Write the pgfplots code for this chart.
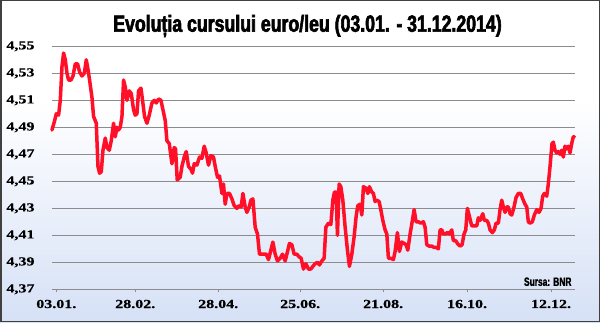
\documentclass[border=0pt]{standalone}
\usepackage{fontspec}
\usepackage{pgfplots}
\usepackage{pgfplotstable}
\pgfplotsset{compat=1.18}
\setmainfont{Liberation Serif}
\newfontfamily\titlefont[FakeStretch=0.76,FakeBold=2.5]{Liberation Sans}
\newfontfamily\tickfont[FakeStretch=1.3,FakeBold=0.6]{Liberation Serif}
\newfontfamily\srcfont[FakeStretch=0.7,FakeBold=1.5]{Liberation Sans}
\definecolor{bgblue}{RGB}{214,225,246}
\definecolor{linered}{RGB}{255,16,40}
\definecolor{gridgray}{RGB}{140,140,140}

\pgfplotstableread{
x v
51.7 4.488
54.0 4.494
56.0 4.500
58.3 4.499
60.0 4.510
61.7 4.535
63.3 4.545
65.0 4.540
66.7 4.530
68.3 4.525
70.7 4.525
72.7 4.528
75.0 4.537
77.3 4.537
79.3 4.531
81.7 4.528
84.0 4.530
86.0 4.540
87.7 4.533
89.3 4.525
91.7 4.512
93.3 4.498
96.0 4.493
97.7 4.461
99.3 4.456
101.0 4.457
102.7 4.473
105.0 4.482
106.7 4.475
109.0 4.473
111.0 4.480
113.3 4.493
115.0 4.483
116.7 4.490
118.3 4.488
120.0 4.490
121.7 4.498
123.3 4.525
125.0 4.520
126.7 4.510
129.0 4.517
131.0 4.515
133.3 4.503
135.0 4.499
136.7 4.500
138.3 4.517
140.7 4.519
142.3 4.510
144.3 4.498
146.7 4.493
149.0 4.499
151.7 4.508
154.0 4.510
156.0 4.508
158.3 4.511
160.7 4.510
162.7 4.503
165.0 4.495
166.7 4.480
169.0 4.478
171.7 4.463
174.0 4.475
175.3 4.474
177.0 4.451
180.0 4.453
181.7 4.461
184.0 4.468
186.0 4.472
188.3 4.461
190.7 4.459
192.3 4.456
194.0 4.463
196.7 4.462
199.3 4.468
201.7 4.467
204.0 4.476
206.0 4.471
208.3 4.462
210.7 4.469
213.3 4.468
215.0 4.461
217.3 4.453
219.3 4.454
221.7 4.441
223.3 4.448
225.0 4.433
226.7 4.441
229.3 4.441
231.7 4.437
234.0 4.432
236.7 4.430
239.0 4.432
241.0 4.431
242.7 4.441
245.0 4.431
246.7 4.427
249.0 4.431
250.7 4.436
252.7 4.437
255.0 4.416
257.3 4.411
259.3 4.396
261.7 4.396
264.0 4.396
266.0 4.396
268.3 4.392
270.7 4.399
272.7 4.405
275.0 4.396
277.3 4.391
280.0 4.393
282.3 4.396
285.0 4.391
286.7 4.396
289.3 4.404
291.7 4.403
294.0 4.396
296.7 4.396
299.0 4.394
301.0 4.393
303.3 4.385
305.7 4.389
308.3 4.385
310.7 4.385
312.7 4.387
315.0 4.389
317.3 4.390
319.3 4.388
321.7 4.391
324.0 4.393
325.7 4.416
328.3 4.419
330.7 4.418
332.7 4.436
334.3 4.442
336.0 4.442
337.3 4.410
339.0 4.448
340.7 4.446
342.7 4.436
345.0 4.416
347.3 4.399
349.3 4.387
351.7 4.396
354.0 4.409
356.0 4.424
357.7 4.432
360.0 4.433
361.7 4.425
363.3 4.446
365.7 4.445
367.7 4.441
369.3 4.446
371.7 4.442
373.3 4.441
375.0 4.435
376.7 4.436
379.0 4.435
380.7 4.429
382.7 4.421
385.0 4.414
386.7 4.411
388.3 4.393
390.7 4.393
393.3 4.392
395.0 4.398
397.3 4.412
399.3 4.398
401.7 4.405
404.0 4.404
406.0 4.403
407.7 4.399
410.0 4.411
412.3 4.421
414.0 4.429
416.0 4.420
418.3 4.420
420.7 4.419
423.3 4.420
425.0 4.416
426.7 4.403
429.0 4.402
431.7 4.402
434.0 4.401
436.0 4.401
438.3 4.400
440.0 4.414
441.7 4.414
443.3 4.411
445.0 4.411
447.3 4.412
449.3 4.411
451.7 4.414
453.3 4.406
455.7 4.406
457.3 4.404
460.0 4.402
462.0 4.403
464.0 4.411
465.7 4.414
467.3 4.430
469.3 4.424
471.7 4.417
474.0 4.417
476.7 4.417
478.3 4.423
480.0 4.421
482.7 4.426
484.3 4.421
486.7 4.421
488.3 4.419
490.0 4.414
492.3 4.412
494.3 4.414
496.0 4.419
498.3 4.419
500.0 4.429
501.7 4.436
503.3 4.431
505.0 4.427
506.7 4.431
508.3 4.431
510.0 4.426
511.7 4.425
514.0 4.431
516.0 4.438
518.3 4.441
520.7 4.441
522.7 4.437
525.0 4.433
526.7 4.431
528.3 4.420
530.0 4.419
532.3 4.420
534.3 4.425
536.7 4.429
539.0 4.427
541.0 4.430
542.7 4.439
544.3 4.441
546.7 4.439
548.3 4.448
550.0 4.461
552.0 4.478
553.3 4.479
555.0 4.473
556.7 4.471
558.3 4.472
560.0 4.470
561.7 4.473
563.3 4.468
565.0 4.476
566.7 4.474
568.3 4.476
570.0 4.471
571.7 4.478
573.3 4.483
574.3 4.483
}\cursdata

\begin{document}
\begin{tikzpicture}[x=1pt,y=1pt]
\useasboundingbox (0,0) rectangle (600,322);
\fill[white] (0,0) rectangle (600,322);
\shade[top color=white, bottom color=bgblue] (0,0) rectangle (600,222);
\begin{axis}[
  at={(52pt,32.7pt)}, anchor=south west,
  scale only axis, width=523pt, height=243pt,
  xmin=51.7, xmax=575, ymin=4.37, ymax=4.55,
  axis lines*=left,
  x axis line style={gridgray, line width=0.9pt, -},
  y axis line style={draw=none},
  ytick={4.37,4.39,4.41,4.43,4.45,4.47,4.49,4.51,4.53,4.55},
  yticklabel={\pgfmathprintnumber[fixed,fixed zerofill,precision=2,use comma,assume math mode=true]{\tick}},
  xtick={56,135,218,300,383,467,551},
  xticklabels={03.01.,28.02.,28.04.,25.06.,21.08.,16.10.,12.12.},
  ymajorgrids=true,
  major grid style={gridgray, line width=0.9pt},
  ytick style={draw=none},
  xtick style={gridgray, line width=0.9pt},
  tick align=outside,
  major tick length=3pt,
  ticklabel style={font=\tickfont\bfseries\fontsize{12.3}{12}\selectfont, text=black},
  yticklabel style={xshift=-11pt},
  xticklabel style={yshift=-4pt},
  clip=false,
]
\addplot[linered, line width=3.5pt, line join=round, line cap=round] table[x=x,y=v]{\cursdata};
\node[anchor=east, font=\srcfont\bfseries\fontsize{12}{12}\selectfont] at (axis cs:575,4.3756) {Sursa: BNR};
\end{axis}
\node[anchor=base, font=\titlefont\bfseries\fontsize{23.3}{24}\selectfont] at (307.5,290.3) {Evoluția cursului euro/leu (03.01. - 31.12.2014)};
\draw[line width=1.5pt, black!75] (0.75,0.75) rectangle (599.25,321.25);
\end{tikzpicture}
\end{document}
